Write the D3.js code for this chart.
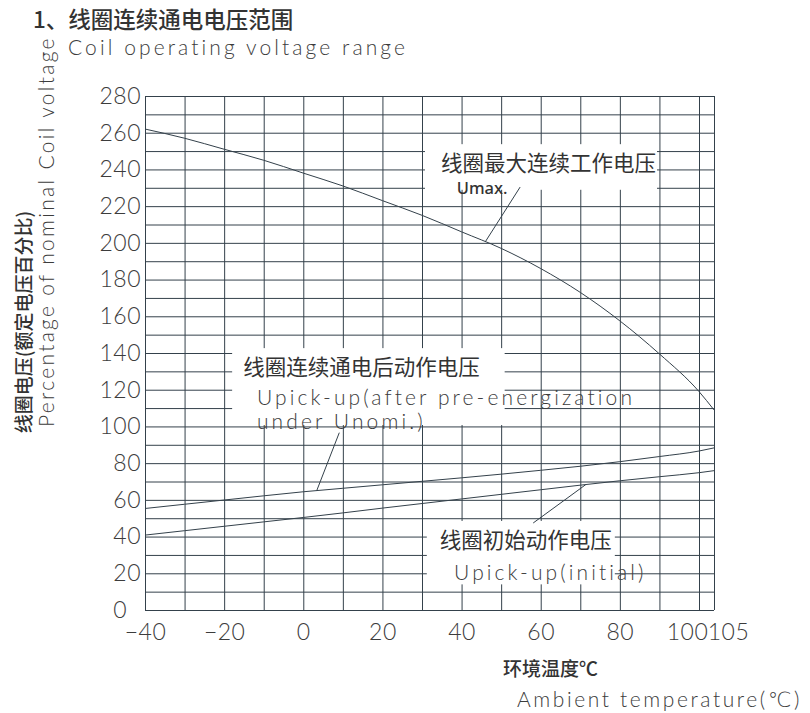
<!DOCTYPE html>
<html>
<head>
<meta charset="utf-8">
<script src="https://cdn.jsdelivr.net/npm/d3@7"></script>
<style>
  body { margin: 0; background: #fff; }
  svg { display: block; }
  .cad { font-family: Lato, "DejaVu Sans", sans-serif; font-weight: 300; fill: #3c3c3c; }
  .cn { font-family: "Noto Sans CJK SC", sans-serif; fill: #333; }
</style>
</head>
<body>
<svg id="chart" width="810" height="713"></svg>
<script>
// values (temperature in °C, voltage in % of nominal)
const temps        = [-40, -30, -20, -10, 0, 10, 20, 30, 40, 50, 60, 70, 80, 90, 100, 105];
const umax         = [262, 257, 251, 245, 238, 231, 223, 215, 206, 197, 186, 173, 157.5, 139.5, 119, 109];
const upickAfter   = [55.3, 57.6, 59.9, 62.2, 64.4, 66.3, 68.2, 70.1, 72, 74, 76.1, 78.3, 80.8, 83.6, 86.6, 88.3];
const upickInitial = [40.8, 43.2, 45.6, 48, 50.4, 52.9, 55.5, 58, 60.5, 63, 65.5, 68, 70.4, 72.6, 74.8, 75.9];

const xTickValues = [-40, -20, 0, 20, 40, 60, 80, 100, 105];
const xTickLabels = ["−40", "−20", "0", "20", "40", "60", "80", "100", "105"];
const yTickValues = [0, 20, 40, 60, 80, 100, 120, 140, 160, 180, 200, 220, 240, 260, 280];

const noteTitles = ["线圈最大连续工作电压", "线圈连续通电后动作电压", "线圈初始动作电压"];
const noteLines  = [["Umax."], ["Upick-up(after pre-energization", "under Unomi.)"], ["Upick-up(initial)"]];

const chartTitle   = "1、线圈连续通电电压范围";
const chartTitleEn = "Coil operating voltage range";
const yTitle   = "线圈电压(额定电压百分比)";
const yTitleEn = "Percentage of nominal Coil voltage";
const xTitle   = "环境温度℃";
const xTitleEn = "Ambient temperature(℃)";

const ink = "#34414b";
const cadSpacing = "3.1px";

// the last column (100..105) is drawn narrower than the others in the original
const x = d3.scaleLinear().domain([-40, 100, 105]).range([145, 699, 714]);
const y = d3.scaleLinear().domain([0, 280]).range([610, 96]);

const svg = d3.select("#chart");

const valueAt = (series, t) => {
  const i = Math.min(d3.bisectRight(temps, t), temps.length - 1);
  const t0 = temps[i - 1], t1 = temps[i];
  return series[i - 1] + (series[i] - series[i - 1]) * (t - t0) / (t1 - t0);
};

// grid
svg.append("g")
    .attr("transform", `translate(0,${y(0)})`)
    .call(d3.axisBottom(x)
        .tickValues(d3.range(-40, 101, 10).concat(105))
        .tickSize(-(y(0) - y(280)))
        .tickFormat(""))
    .call(g => g.select(".domain").remove())
    .call(g => g.selectAll(".tick line").attr("stroke", ink));

svg.append("g")
    .attr("transform", `translate(${x(-40)},0)`)
    .call(d3.axisLeft(y)
        .tickValues(d3.range(0, 281, 10))
        .tickSize(-(x(105) - x(-40)))
        .tickFormat(""))
    .call(g => g.select(".domain").remove())
    .call(g => g.selectAll(".tick line").attr("stroke", ink));

// curves
const line = d3.line().x((d, i) => x(temps[i])).y(d => y(d)).curve(d3.curveMonotoneX);
svg.append("g")
    .attr("fill", "none")
    .attr("stroke", ink)
    .attr("stroke-width", 1)
  .selectAll("path")
  .data([umax, upickAfter, upickInitial])
  .join("path")
    .attr("d", line);

// tick labels
svg.append("g")
    .attr("transform", `translate(${x(-40)},0)`)
    .call(d3.axisLeft(y).tickValues(yTickValues).tickSize(0).tickPadding(4))
    .call(g => g.select(".domain").remove())
    .call(g => g.selectAll("text")
        .attr("class", "cad")
        .style("font-size", "23px")
        .style("letter-spacing", "0.5px")
        .attr("dx", d => d === 0 ? -14 : 0));

svg.append("g")
    .attr("transform", `translate(0,${y(0)})`)
    .call(d3.axisBottom(x).tickValues(xTickValues)
        .tickFormat((d, i) => xTickLabels[i]).tickSize(0).tickPadding(14))
    .call(g => g.select(".domain").remove())
    .call(g => g.selectAll("text")
        .attr("class", "cad")
        .style("font-size", "23px")
        .style("letter-spacing", "0.5px")
        .attr("dx", d => d === 100 ? -12 : d === 105 ? 14 : 0));

// titles
svg.append("text").attr("class", "cn")
    .attr("x", 33).attr("y", 18)
    .attr("dominant-baseline", "central")
    .style("font-size", "22.5px").style("font-weight", 500)
    .text(chartTitle);

svg.append("text").attr("class", "cad")
    .attr("x", 68).attr("y", 48).attr("dy", "0.35em")
    .style("font-size", "21px").style("letter-spacing", cadSpacing)
    .text(chartTitleEn);

svg.append("text").attr("class", "cn")
    .attr("transform", "translate(22,322) rotate(-90)")
    .attr("text-anchor", "middle")
    .attr("dominant-baseline", "central")
    .style("font-size", "19px").style("font-weight", 500)
    .text(yTitle);

svg.append("text").attr("class", "cad")
    .attr("transform", "translate(47,427) rotate(-90)")
    .attr("dy", "0.35em")
    .style("font-size", "21px").style("letter-spacing", "2.3px")
    .text(yTitleEn);

svg.append("text").attr("class", "cn")
    .attr("x", 503).attr("y", 667)
    .attr("dominant-baseline", "central")
    .style("font-size", "19px").style("font-weight", 500)
    .text(xTitle);

svg.append("text").attr("class", "cad")
    .attr("x", 517).attr("y", 700).attr("dy", "0.35em")
    .style("font-size", "21px").style("letter-spacing", "2.6px")
    .text(xTitleEn);

// annotations: text anchors and leader ends are in chart units
const notes = [
  { title: [34.8, 244.5], lines: [[38.8, 230]], leader: [54.8, 230.4], target: [46, umax],
    pad: { l: 16, r: 1, t: 17, b: 2 } },
  { title: [-15.2, 133.4], lines: [[-11.7, 115.5], [-11.7, 102.4]], leader: [9.1, 96.6], target: [3.4, upickAfter],
    pad: { l: 11, r: 25, t: 17, b: 3 } },
  { title: [34.5, 38.7], lines: [[38.1, 20.5]], leader: [58.1, 47.4], target: [71.4, upickInitial],
    pad: { l: 13, r: 3, t: 18, b: 12 } }
];

notes.forEach((n, k) => {
  const g = svg.append("g");
  const left = Math.min(x(n.title[0]), ...n.lines.map(p => x(p[0])));
  const mask = g.append("rect").attr("fill", "#fff");
  const t = g.append("text").attr("class", "cn")
      .attr("x", x(n.title[0])).attr("y", y(n.title[1]))
      .attr("dominant-baseline", "central")
      .style("font-size", "21.5px")
      .text(noteTitles[k]);
  n.lines.forEach((p, j) => {
    const s = g.append("text")
        .attr("x", x(p[0])).attr("y", y(p[1])).attr("dy", "0.35em")
        .text(noteLines[k][j]);
    if (k === 0) {
      s.style("font-family", "'Noto Sans', sans-serif").style("font-size", "16.5px")
        .style("font-weight", 500).attr("fill", "#333");
    } else {
      s.attr("class", "cad").style("font-size", "21px").style("letter-spacing", cadSpacing);
    }
  });
  const box = t.node().getBBox();
  const right = box.x + box.width;
  const top = y(n.title[1]) - n.pad.t;
  const bottom = y(n.lines[n.lines.length - 1][1]) + n.pad.b;
  mask.attr("x", left - n.pad.l).attr("y", top)
      .attr("width", right + n.pad.r - left + n.pad.l)
      .attr("height", bottom - top);
  g.append("line")
      .attr("stroke", ink)
      .attr("x1", x(n.leader[0])).attr("y1", y(n.leader[1]))
      .attr("x2", x(n.target[0])).attr("y2", y(valueAt(n.target[1], n.target[0])));
});
</script>
</body>
</html>
